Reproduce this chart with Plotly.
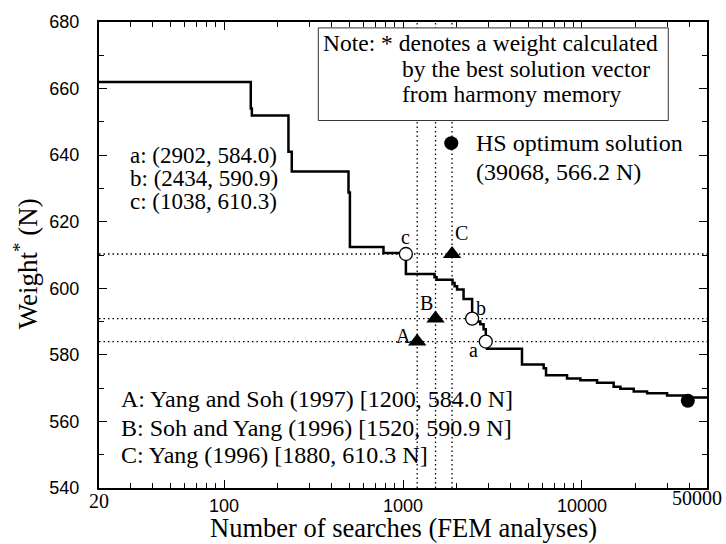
import math
import plotly.graph_objects as go

# ---------------- data ----------------
search_x = [20, 141, 143, 229, 239, 496, 505, 778, 1038, 1500, 1540, 1892, 1942, 2006,
            2180, 2434, 2592, 2704, 2821, 2902, 2950, 4624, 6110, 6300, 8258, 9800,
            12150, 15040, 16400, 19470, 23130, 29930, 38700, 50000]
weight_y = [662.0, 654.0, 651.9, 641.0, 635.1, 628.8, 612.4, 610.6, 604.3, 603.3, 602.6,
            601.6, 600.6, 599.6, 596.8, 590.9, 590.0, 589.2, 587.7, 584.0, 581.8, 577.1,
            576.0, 573.9, 572.9, 572.4, 571.6, 570.4, 569.8, 569.0, 568.5, 567.8, 567.2, 567.0]

hs_labels = ["a", "b", "c"]
hs_x = [2902, 2434, 1038]
hs_y = [584.0, 590.9, 610.3]

ref_labels = ["A", "B", "C"]
ref_x = [1200, 1520, 1880]
ref_y = [584.0, 590.9, 610.3]

opt_x = [39068]
opt_y = [566.2]

legend_key_x = [1861]
legend_key_y = [643.6]

x_range = [20, 50000]
y_range = [540, 680]
x_major = [100, 1000, 10000]
x_minor = [30, 40, 50, 60, 70, 80, 90, 200, 300, 400, 500, 600, 700, 800, 900,
           2000, 3000, 4000, 5000, 6000, 7000, 8000, 9000, 20000, 30000, 40000]

abc_lines = ["a: (2902, 584.0)", "b: (2434, 590.9)", "c: (1038, 610.3)"]
ABC_lines = ["A: Yang and Soh (1997) [1200, 584.0 N]",
             "B: Soh and Yang (1996) [1520, 590.9 N]",
             "C: Yang (1996) [1880, 610.3 N]"]
note_lines = ["Note: * denotes a weight calculated",
              "by the best solution vector",
              "from harmony memory"]
hs_text = ["HS optimum solution", "(39068, 566.2 N)"]

SERIF = "Liberation Serif, Times New Roman, serif"
SANS = "Liberation Sans, Arial, sans-serif"
DOT = "1.5px,3px"

fig = go.Figure()

# dotted reference lines
for yv in ref_y:
    fig.add_trace(go.Scatter(x=x_range, y=[yv, yv], mode="lines",
                             line=dict(color="black", width=1.3, dash=DOT),
                             hoverinfo="skip", showlegend=False))
for xv in ref_x:
    fig.add_trace(go.Scatter(x=[xv, xv], y=y_range, mode="lines",
                             line=dict(color="black", width=1.3, dash=DOT),
                             hoverinfo="skip", showlegend=False))

# step curve
fig.add_trace(go.Scatter(x=search_x, y=weight_y, mode="lines", line_shape="hv",
                         line=dict(color="black", width=2.5), showlegend=False))

# HS points a, b, c
fig.add_trace(go.Scatter(x=hs_x, y=hs_y, mode="markers",
                         marker=dict(symbol="circle", size=13, color="white",
                                     line=dict(color="black", width=1.3)),
                         showlegend=False))
# literature points
fig.add_trace(go.Scatter(x=ref_x, y=ref_y, mode="markers",
                         marker=dict(symbol="triangle-up", size=16, color="black"),
                         showlegend=False))
# optimum
fig.add_trace(go.Scatter(x=opt_x, y=opt_y, mode="markers",
                         marker=dict(symbol="circle", size=14, color="black"),
                         showlegend=False))
fig.add_trace(go.Scatter(x=legend_key_x, y=legend_key_y, mode="markers",
                         marker=dict(symbol="circle", size=14, color="black"),
                         showlegend=False))

ann = []
# point labels
abc_shift = {"a": (-12, -8), "b": (9, 11), "c": (0, 17)}
for lab, xv, yv in zip(hs_labels, hs_x, hs_y):
    dx, dy = abc_shift[lab]
    ann.append(dict(x=math.log10(xv), y=yv, xref="x", yref="y", text=lab, showarrow=False,
                    xshift=dx, yshift=dy, font=dict(family=SERIF, size=20, color="black")))
ABC_shift = {"A": (-14, 6), "B": (-9, 16), "C": (9, 21)}
for lab, xv, yv in zip(ref_labels, ref_x, ref_y):
    dx, dy = ABC_shift[lab]
    ann.append(dict(x=math.log10(xv), y=yv, xref="x", yref="y", text=lab, showarrow=False,
                    xshift=dx, yshift=dy, font=dict(family=SERIF, size=20, color="black")))

def px_x(px):
    return (px - 99) / 608.0

def px_y(py):
    return (488 - py) / 473.0

for t, py in zip(abc_lines, [150, 173.5, 197]):
    ann.append(dict(x=px_x(128), y=px_y(py), xref="paper", yref="paper", text=t,
                    showarrow=False, xanchor="left", yanchor="middle",
                    font=dict(family=SERIF, size=23, color="black")))
for t, py in zip(ABC_lines, [398, 426.7, 455]):
    ann.append(dict(x=px_x(119), y=px_y(py), xref="paper", yref="paper", text=t,
                    showarrow=False, xanchor="left", yanchor="middle",
                    font=dict(family=SERIF, size=24, color="black")))
for t, px, py in zip(note_lines, [321, 400, 400], [36.5, 62.5, 88.5]):
    ann.append(dict(x=px_x(px), y=px_y(py), xref="paper", yref="paper", text=t,
                    showarrow=False, xanchor="left", yanchor="middle",
                    font=dict(family=SERIF, size=23.5, color="black")))
for t, py in zip(hs_text, [137.5, 167.5]):
    ann.append(dict(x=px_x(474), y=px_y(py), xref="paper", yref="paper", text=t,
                    showarrow=False, xanchor="left", yanchor="middle",
                    font=dict(family=SERIF, size=24, color="black")))

# serif end tick labels
ann.append(dict(x=math.log10(x_range[0]), y=px_y(501), xref="x", yref="paper", text="20",
                showarrow=False, xanchor="center", yanchor="middle",
                font=dict(family=SERIF, size=20, color="black")))
ann.append(dict(x=math.log10(x_range[1]), y=px_y(498), xref="x", yref="paper", text="50000",
                showarrow=False, xanchor="center", yanchor="middle", xshift=-10,
                font=dict(family=SERIF, size=20, color="black")))

# axis titles
ann.append(dict(x=0.5, y=px_y(529), xref="paper", yref="paper",
                text="Number of searches (FEM analyses)", showarrow=False,
                xanchor="center", yanchor="middle", borderpad=0,
                font=dict(family=SERIF, size=26.5, color="black")))
ann.append(dict(x=px_x(26), y=px_y(261), xref="paper", yref="paper",
                text="Weight<sup>*</sup> (N)", showarrow=False, textangle=-90,
                xanchor="center", yanchor="middle",
                font=dict(family=SERIF, size=27, color="black")))

fig.update_layout(
    width=726, height=544, autosize=False,
    margin=dict(l=99, r=19, t=15, b=56),
    paper_bgcolor="white", plot_bgcolor="white",
    showlegend=False,
    annotations=ann,
    shapes=[dict(type="rect", xref="paper", yref="paper",
                 x0=px_x(318.3), x1=px_x(668.3), y0=px_y(115), y1=px_y(21),
                 fillcolor="white", line=dict(color="#333", width=1), layer="above")],
)

fig.update_xaxes(type="log", range=[math.log10(x_range[0]), math.log10(x_range[1])],
                 tickvals=x_major, ticktext=[str(v) for v in x_major],
                 ticks="inside", ticklen=8, tickwidth=1.3, tickcolor="black",
                 showline=True, linecolor="black", linewidth=2, mirror="allticks",
                 showgrid=False, zeroline=False, ticklabelstandoff=0,
                 tickfont=dict(family=SANS, size=18, color="black"),
                 minor=dict(tickvals=x_minor, ticks="inside", ticklen=5, tickwidth=1.2,
                            tickcolor="black", showgrid=False))
fig.update_yaxes(range=y_range, dtick=20, tick0=540,
                 ticks="inside", ticklen=8, tickwidth=1.3, tickcolor="black",
                 showline=True, linecolor="black", linewidth=2, mirror="allticks",
                 showgrid=False, zeroline=False, ticklabelstandoff=14,
                 tickfont=dict(family=SANS, size=18, color="black"),
                 minor=dict(dtick=10, ticks="inside", ticklen=5, tickwidth=1.2,
                            tickcolor="black", showgrid=False))

fig.write_html("out.html")
